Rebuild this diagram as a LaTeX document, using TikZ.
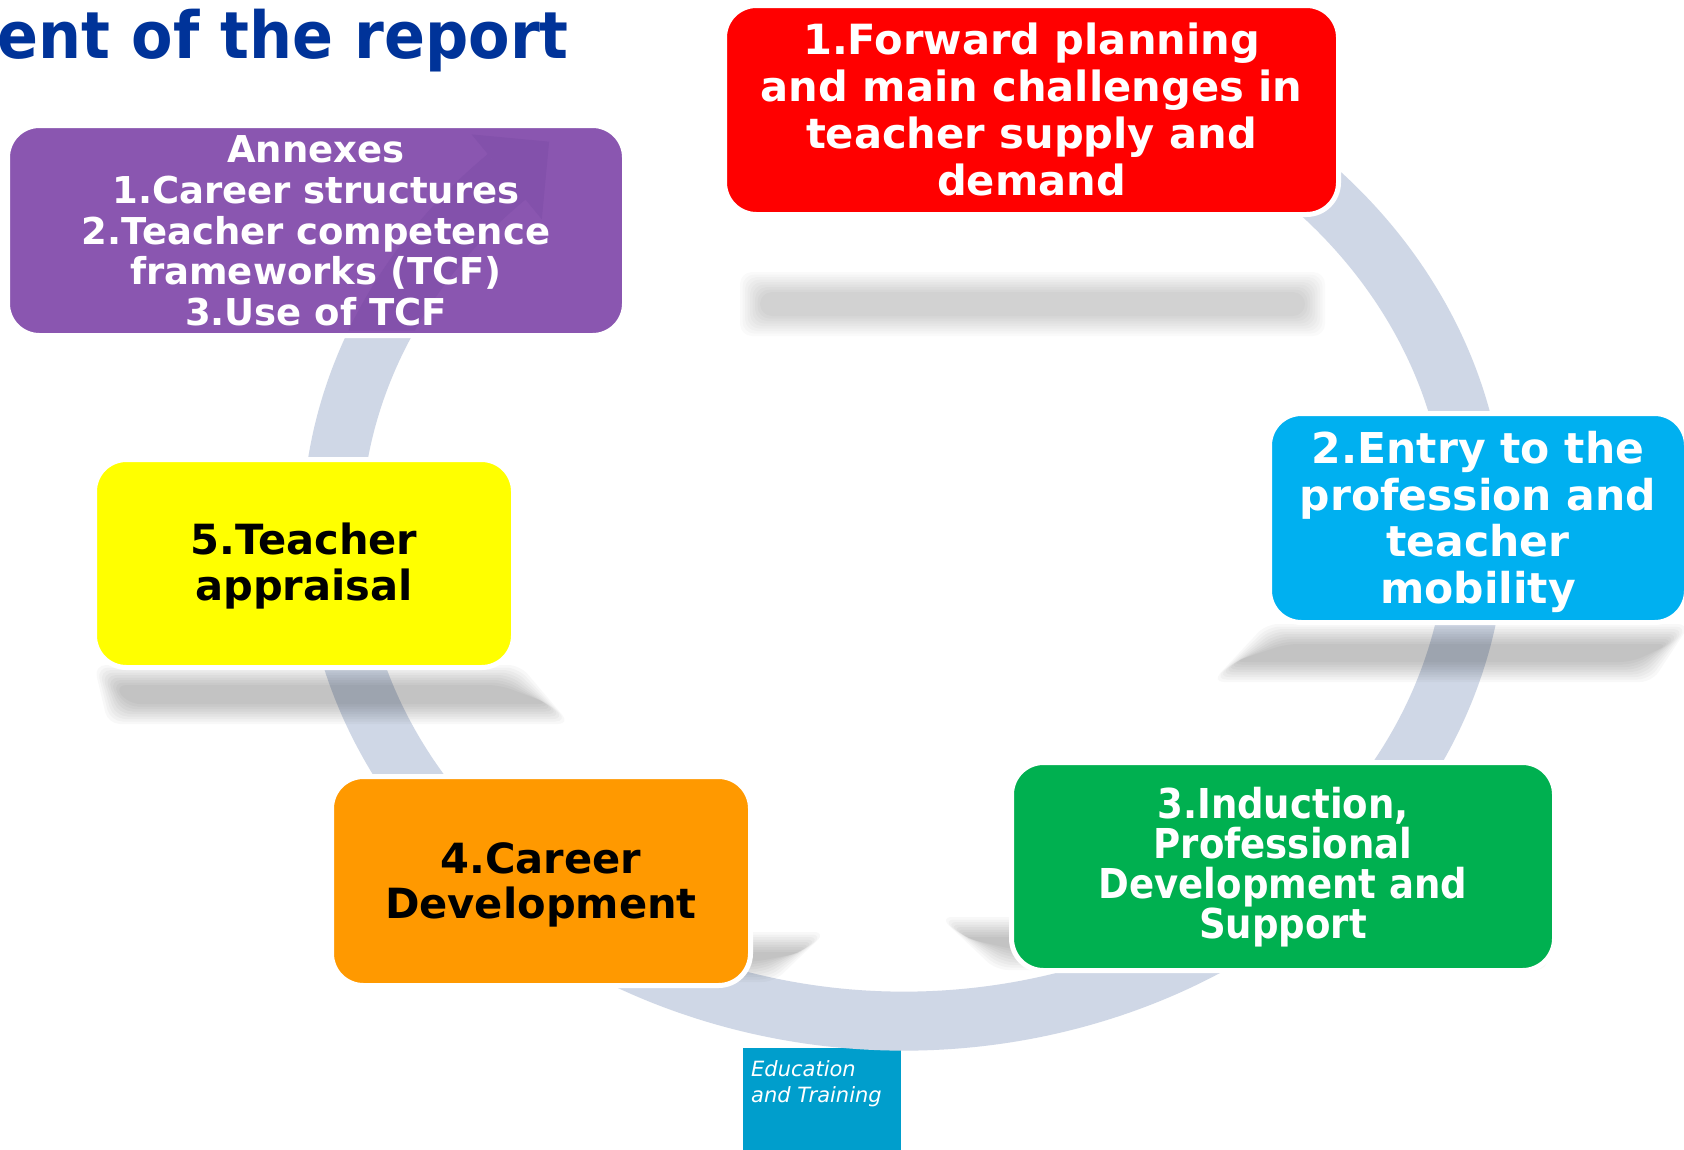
\documentclass[tikz,border=0pt]{standalone}
\usepackage{fontspec}
\setmainfont{DejaVu Sans}
\newfontfamily\narrowfont[FakeStretch=0.9]{DejaVu Sans}
\newfontfamily\titlefont[FakeStretch=0.93]{DejaVu Sans}
\definecolor{ringc}{HTML}{CFD7E6}
\definecolor{redc}{HTML}{FF0000}
\definecolor{bluec}{HTML}{00B0F0}
\definecolor{greenc}{HTML}{00B050}
\definecolor{orangec}{HTML}{FF9900}
\definecolor{yellowc}{HTML}{FFFF00}
\definecolor{purplec}{HTML}{8A56B0}
\definecolor{purpledk}{HTML}{8351AB}
\definecolor{titlec}{HTML}{003399}
\definecolor{educ}{HTML}{009ECC}
\newcommand\softshadow[7]{%
  \foreach \k in {0,...,8}{%
    \fill[black,opacity=#7,rounded corners=12pt]
      ({#3+2.5*\k},{#1+2.5*\k}) -- ({#4-2.5*\k},{#1+2.5*\k}) --
      ({#6-2.5*\k},{#2-2.5*\k}) -- ({#5+2.5*\k},{#2-2.5*\k}) -- cycle;
  }%
}
\begin{document}
\begin{tikzpicture}[x=1pt,y=-1pt,
  box/.style={draw=white, line width=5pt, rounded corners=32pt, inner sep=0pt},
  boxtxt/.style={align=center, inner sep=0pt},
  ringband/.style={draw=ringc, line width=59pt, line cap=butt}
]
\useasboundingbox (0,0) rectangle (1684,1149);
\clip (0,0) rectangle (1684,1149);
\fill[white] (0,0) rectangle (1684,1149);

% logo box
\node[fill=educ, minimum width=158pt, minimum height=120pt, inner sep=0pt, anchor=north west] (edu) at (743,1048) {};
\node[anchor=north west, inner sep=0pt, align=left, text=white,
      font=\fontsize{21}{26}\selectfont\itshape] (edut) at (751,1060) {Education\\and Training};

% cycle ring
\draw[ringband] ({904+572*cos(-70)},{530+491*sin(-70)})
  arc[start angle=-70, end angle=226, x radius=572, y radius=491];

% shadows
\softshadow{272}{336}{740}{1325}{740}{1325}{0.02}
\softshadow{624}{682}{1266}{1690}{1212}{1652}{0.026}
\softshadow{665}{724}{94}{520}{108}{570}{0.026}
\softshadow{932}{982}{338}{826}{338}{774}{0.026}
\softshadow{917}{970}{940}{1548}{996}{1548}{0.026}

% boxes
\node[box, fill=purplec, minimum width=617pt, minimum height=210pt] (annex) at (316,230.5) {};
\begin{scope}
  \clip[rounded corners=30pt] (12.5,130.5) rectangle (619.5,330.5);
  \draw[draw=purpledk, line width=59pt] ({904+572*cos(180)},{530+491*sin(180)})
    arc[start angle=180, end angle=226, x radius=572, y radius=491];
  \fill[purpledk] (471.6,134.4) -- (549.1,141.7) -- (541.8,219.2) -- cycle;
\end{scope}
\node[boxtxt, text=white, font=\fontsize{37}{40.7}\selectfont\bfseries] (annext) at (316,231)
  {Annexes\\1.Career structures\\2.Teacher competence\\frameworks (TCF)\\3.Use of TCF};

\node[box, fill=redc, minimum width=614pt, minimum height=209pt] (fwd) at (1031.5,110) {};
\node[boxtxt, text=white, font=\fontsize{41.6}{46.7}\selectfont\bfseries] (fwdt) at (1031.5,109.5)
  {1.Forward planning\\and main challenges in\\teacher supply and\\demand};

\node[box, fill=bluec, minimum width=417pt, minimum height=209pt] (entry) at (1478,518) {};
\node[boxtxt, text=white, font=\fontsize{42.5}{46.7}\selectfont\bfseries] (entryt) at (1478,522)
  {2.Entry to the\\profession and\\teacher\\mobility};

\node[box, fill=greenc, minimum width=543pt, minimum height=208pt] (ind) at (1283,866.5) {};
\node[boxtxt, text=white, font=\narrowfont\fontsize{41.2}{40}\selectfont\bfseries] (indt) at (1283,867)
  {3.Induction,\\Professional\\Development and\\Support};

\node[box, fill=orangec, minimum width=419pt, minimum height=209pt] (career) at (541,881) {};
\node[boxtxt, text=black, font=\fontsize{41.6}{45}\selectfont\bfseries] (careert) at (541,885)
  {4.Career\\Development};

\node[box, fill=yellowc, minimum width=419pt, minimum height=208pt] (appr) at (304,563.5) {};
\node[boxtxt, text=black, font=\fontsize{41.6}{46}\selectfont\bfseries] (apprt) at (304,566)
  {5.Teacher\\appraisal};

% title
\node[anchor=base east, inner sep=0pt, text=titlec, font=\titlefont\fontsize{65}{70}\selectfont\bfseries] (title) at (569,58) {ent of the report};
\end{tikzpicture}
\end{document}
